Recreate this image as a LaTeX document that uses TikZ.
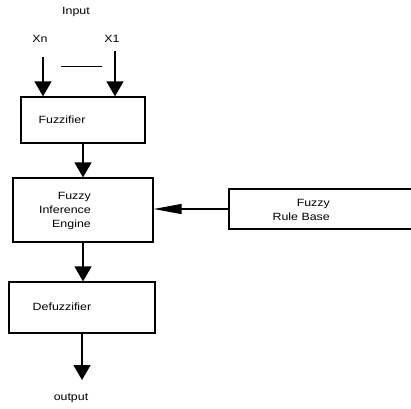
\documentclass[tikz,border=0pt]{standalone}
\usepackage{fontspec}
\setmainfont[FakeStretch=1.18]{Liberation Sans}
\usetikzlibrary{arrows.meta,calc}
\definecolor{LineClr}{rgb}{0,0,0}

\tikzset{
  block/.style={draw=LineClr,line width=1.3pt,rectangle,inner sep=0pt},
  txt/.style={font=\fontsize{10.5}{14}\selectfont,inner sep=0pt},
  flow/.style={line width=1.3pt,-{Triangle[length=15pt,width=17pt]}},
  side/.style={line width=1.3pt,-{Triangle[length=28pt,width=10pt]}}
}

\begin{document}
\begin{tikzpicture}[x=1pt,y=-1pt]
\useasboundingbox (0,0) rectangle (411,408);

\node[txt] (input) at (76,12) {Input};
\node[txt] (xn) at (40,39) {Xn};
\node[txt] (xone) at (112,39) {X1};

\coordinate (xnstart) at (43,57);
\coordinate (xonestart) at (115,51);
\coordinate (dashl) at (61,66);
\coordinate (dashr) at (102,66);

\node[block,minimum width=124pt,minimum height=46pt] (fuzz) at (83,120) {};
\node[block,minimum width=140pt,minimum height=64pt] (engine) at (83,210) {};
\node[block,minimum width=190pt,minimum height=40pt] (rule) at (324,209) {};
\node[block,minimum width=146pt,minimum height=51pt] (defuzz) at (82,307.5) {};

\node[txt] at (62,120) {Fuzzifier};
\node[txt,align=right,anchor=east] at (91,211) {Fuzzy\\Inference\\Engine};
\node[txt,align=right,anchor=east] at (330,209.5) {Fuzzy\\Rule Base};
\node[txt] at (62,307) {Defuzzifier};

\coordinate (outend) at (82,380);
\node[txt] (output) at (71,398) {output};

\draw[flow] (xnstart) -- (xnstart |- fuzz.north);
\draw[flow] (xonestart) -- (xonestart |- fuzz.north);
\draw[line width=1pt] (dashl) -- (dashr);

\draw[flow] (fuzz.south) -- (engine.north);
\draw[side] (rule.west) -- (rule.west -| engine.east);
\draw[flow] (engine.south) -- (engine.south |- defuzz.north);
\draw[flow] (defuzz.south) -- (outend);

\end{tikzpicture}
\end{document}
